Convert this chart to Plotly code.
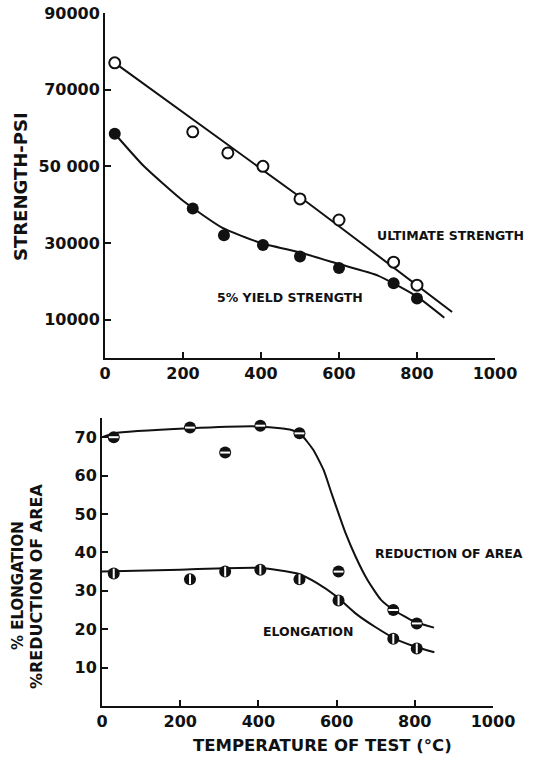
"""
Strength and ductility vs test temperature: two stacked panels.
"""
import plotly.graph_objects as go

INK = "#111111"
FONT = "DejaVu Sans"

# --- top panel: strength (psi) ---
temp_ult = [25, 225, 315, 405, 500, 600, 740, 800]
ultimate = [77000, 59000, 53500, 50000, 41500, 36000, 25000, 19000]
temp_yld = [25, 225, 305, 405, 500, 600, 740, 800]
yield5 = [58500, 39000, 32000, 29500, 26500, 23500, 19500, 15500]

# hand-drawn fit curves
ult_fit_x = [25, 500, 890]
ult_fit_y = [77000, 42000, 12000]
yld_fit_x = [25, 100, 200, 300, 400, 500, 600, 700, 800, 870]
yld_fit_y = [58500, 50000, 41000, 34000, 30000, 27500, 24500, 21500, 16000, 10500]

strength_ticks = [10000, 30000, 50000, 70000, 90000]
strength_labels = ["10000", "30000", "50 000", "70000", "90000"]

# --- bottom panel: ductility (%) ---
temp_duct = [30, 225, 315, 405, 505, 605, 745, 805]
red_area = [70, 72.5, 66, 73, 71, 35, 25, 21.5]
elong = [34.5, 33, 35, 35.5, 33, 27.5, 17.5, 15]

ra_fit_x = [0, 30, 225, 400, 480, 508, 541, 567, 585, 602, 623, 649, 679, 713, 746, 798, 849]
ra_fit_y = [70, 71, 72.3, 72.8, 72, 70.8, 66.6, 61.4, 56, 51, 45, 38.8, 32.8, 27.7, 25, 22, 20.4]
el_fit_x = [0, 200, 400, 500, 550, 600, 650, 700, 750, 800, 850]
el_fit_y = [35, 35.5, 36, 34.5, 32, 28.5, 24, 20.5, 17.5, 15.5, 14]

temp_ticks = [0, 200, 400, 600, 800, 1000]
duct_ticks = [10, 20, 30, 40, 50, 60, 70]

W, H = 535, 758


def px_x(p):
    return p / W


def px_y(p):
    return 1 - p / H


fig = go.Figure()

# fit lines first so markers sit on top
for fx, fy, xa, ya in [
    (ult_fit_x, ult_fit_y, "x", "y"),
    (yld_fit_x, yld_fit_y, "x", "y"),
    (ra_fit_x, ra_fit_y, "x2", "y2"),
    (el_fit_x, el_fit_y, "x2", "y2"),
]:
    fig.add_trace(go.Scatter(
        x=fx, y=fy, xaxis=xa, yaxis=ya, mode="lines",
        line=dict(color=INK, width=2, shape="spline", smoothing=0.5),
        hoverinfo="skip", showlegend=False, cliponaxis=False,
    ))

fig.add_trace(go.Scatter(
    x=temp_ult, y=ultimate, mode="markers", name="Ultimate strength",
    marker=dict(symbol="circle", size=11, color="white",
                line=dict(color=INK, width=2)),
    showlegend=False, cliponaxis=False,
))
fig.add_trace(go.Scatter(
    x=temp_yld, y=yield5, mode="markers", name="5% yield strength",
    marker=dict(symbol="circle", size=12, color=INK),
    showlegend=False, cliponaxis=False,
))

# half-filled markers: dark disc with a white slit
for yy, slit in [(red_area, "line-ew"), (elong, "line-ns")]:
    fig.add_trace(go.Scatter(
        x=temp_duct, y=yy, xaxis="x2", yaxis="y2", mode="markers",
        marker=dict(symbol="circle", size=12, color=INK),
        showlegend=False, cliponaxis=False,
    ))
    fig.add_trace(go.Scatter(
        x=temp_duct, y=yy, xaxis="x2", yaxis="y2", mode="markers",
        marker=dict(symbol=slit, size=7, line=dict(color="white", width=2)),
        hoverinfo="skip", showlegend=False, cliponaxis=False,
    ))

axis_common = dict(
    showline=True, linecolor=INK, linewidth=2, showgrid=False, zeroline=False,
    automargin=False,
    ticks="inside", ticklen=6, tickwidth=2, tickcolor=INK,
    tickfont=dict(family=FONT, size=16, color=INK, weight="bold"),
)

fig.update_layout(
    width=W, height=H,
    paper_bgcolor="white", plot_bgcolor="white",
    margin=dict(l=0, r=0, t=0, b=0),
    font=dict(family=FONT, color=INK),
    xaxis=dict(axis_common, domain=[px_x(105), px_x(495)], range=[0, 1000],
               anchor="y", tickvals=temp_ticks),
    yaxis=dict(axis_common, domain=[px_y(358), px_y(13)], range=[0, 90000],
               anchor="x", tickvals=strength_ticks, ticktext=strength_labels),
    xaxis2=dict(axis_common, domain=[px_x(102), px_x(493)], range=[0, 1000],
                anchor="y2", tickvals=temp_ticks),
    yaxis2=dict(axis_common, domain=[px_y(706), px_y(418)], range=[0, 75],
                anchor="x2", tickvals=duct_ticks),
)

lab = dict(family=FONT, size=12.5, color=INK, weight="bold")
for x, y, xr, yr, t in [
    (885, 31900, "x", "y", "ULTIMATE STRENGTH"),
    (474, 15700, "x", "y", "5% YIELD STRENGTH"),
    (887, 39.6, "x2", "y2", "REDUCTION OF AREA"),
    (526, 19.4, "x2", "y2", "ELONGATION"),
]:
    fig.add_annotation(x=x, y=y, xref=xr, yref=yr, text=t, showarrow=False,
                       font=lab, xanchor="center", yanchor="middle")

for x, y, ang, size, t in [
    (20, 187, -90, 18, "STRENGTH-PSI"),
    (18, 586, -90, 15, "% ELONGATION"),
    (36, 587, -90, 16, "%REDUCTION OF AREA"),
    (322, 745, 0, 16.5, "TEMPERATURE OF TEST (°C)"),
]:
    fig.add_annotation(x=px_x(x), y=px_y(y), xref="paper", yref="paper",
                       text=t, textangle=ang, showarrow=False,
                       font=dict(family=FONT, size=size, color=INK, weight="bold"),
                       xanchor="center", yanchor="middle")

# drop the default 8px body margin so the page matches the window exactly
fig.write_html("out.html", config={"displayModeBar": False},
               post_script="document.body.style.margin='0';")
